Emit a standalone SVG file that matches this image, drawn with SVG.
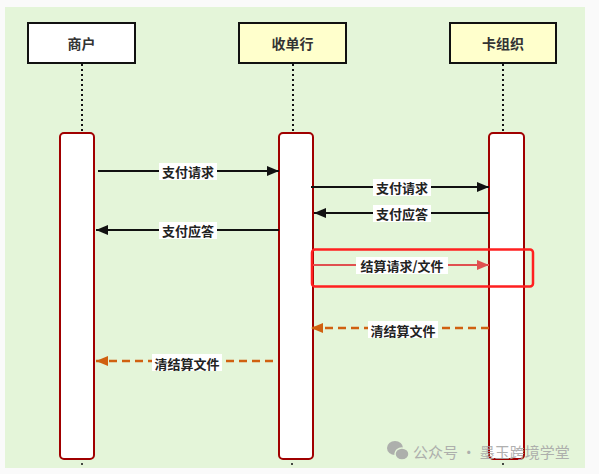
<svg xmlns="http://www.w3.org/2000/svg" width="599" height="474" viewBox="0 0 599 474">
<defs>
<style>
.node{stroke:#111;stroke-width:2}
.ntext{font-family:"Noto Sans CJK SC","Liberation Sans",sans-serif;font-size:14px;font-weight:bold;fill:#333;text-anchor:middle;dominant-baseline:central}
.life{stroke:#111;stroke-width:2;stroke-dasharray:2 3;fill:none}
.act{fill:#fff;stroke:#a00000;stroke-width:2}
.msg{stroke:#111;stroke-width:2;fill:none}
.red{stroke:#e05050;stroke-width:2;fill:none}
.dash{stroke:#d06010;stroke-width:2.5;stroke-dasharray:8 5;fill:none}
.lbg{fill:#fff}
.ltext{font-family:"Noto Sans CJK SC","Liberation Sans",sans-serif;font-size:13px;font-weight:bold;fill:#222;text-anchor:middle;dominant-baseline:central}
</style>
<marker id="ab" viewBox="0 0 12 10" refX="12" refY="5" markerWidth="12" markerHeight="10" markerUnits="userSpaceOnUse" orient="auto"><path d="M0,0 L12,5 L0,10 z" fill="#111"/></marker>
<marker id="ar" viewBox="0 0 12 10" refX="12" refY="5" markerWidth="12" markerHeight="10" markerUnits="userSpaceOnUse" orient="auto"><path d="M0,0 L12,5 L0,10 z" fill="#e05050"/></marker>
<marker id="ao" viewBox="0 0 12 10" refX="12" refY="5" markerWidth="12" markerHeight="10" markerUnits="userSpaceOnUse" orient="auto"><path d="M0,0 L12,5 L0,10 z" fill="#d06010"/></marker>
</defs>
<rect x="0" y="0" width="599" height="474" fill="#fafafa"/>
<rect x="5" y="7" width="580" height="461" fill="#e4f5d9"/>

<g id="lifelines">
<line class="life" x1="82" y1="64" x2="82" y2="133"/>
<line class="life" x1="293" y1="64" x2="293" y2="133"/>
<line class="life" x1="503" y1="64" x2="503" y2="133"/>
<circle cx="82" cy="464" r="1" fill="#111"/>
<circle cx="292" cy="464" r="1" fill="#111"/>
<circle cx="503" cy="464" r="1" fill="#111"/>
</g>

<g id="merchant">
<rect class="node" x="28" y="23" width="107" height="40" fill="#fff"/>
<text class="ntext" x="81.5" y="43">商户</text>
</g>
<g id="acquirer">
<rect class="node" x="239" y="23" width="107" height="40" fill="#ffffcc"/>
<text class="ntext" x="292.5" y="43">收单行</text>
</g>
<g id="cardorg">
<rect class="node" x="450" y="23" width="106" height="40" fill="#ffffcc"/>
<text class="ntext" x="503" y="43">卡组织</text>
</g>

<g id="activations">
<rect class="act" x="60" y="133" width="34" height="326" rx="4"/>
<rect class="act" x="279" y="133" width="34" height="326" rx="4"/>
<rect class="act" x="489" y="133" width="35" height="326" rx="4"/>
</g>

<g id="connectors">
<line class="msg" x1="98" y1="171" x2="279" y2="171" marker-end="url(#ab)"/>
<rect class="lbg" x="159" y="163" width="58" height="17"/>
<text class="ltext" x="188" y="171">支付请求</text>

<line class="msg" x1="311" y1="187" x2="489" y2="187" marker-end="url(#ab)"/>
<rect class="lbg" x="373" y="179" width="58" height="17"/>
<text class="ltext" x="402" y="187">支付请求</text>

<line class="msg" x1="489" y1="213" x2="314" y2="213" marker-end="url(#ab)"/>
<rect class="lbg" x="373" y="205" width="58" height="17"/>
<text class="ltext" x="402" y="213">支付应答</text>

<line class="msg" x1="279" y1="230" x2="96" y2="230" marker-end="url(#ab)"/>
<rect class="lbg" x="159" y="222" width="58" height="17"/>
<text class="ltext" x="188" y="230">支付应答</text>

<line class="red" x1="313" y1="265" x2="489" y2="265" marker-end="url(#ar)"/>
<rect class="lbg" x="356" y="257" width="92" height="17"/>
<text class="ltext" x="402" y="265">结算请求/文件</text>

<line class="dash" x1="489" y1="328" x2="311" y2="328" marker-end="url(#ao)"/>
<rect class="lbg" x="368" y="321" width="70" height="17"/>
<text class="ltext" x="403" y="330">清结算文件</text>

<line class="dash" x1="273" y1="361" x2="96" y2="361" marker-end="url(#ao)"/>
<rect class="lbg" x="152" y="354" width="70" height="17"/>
<text class="ltext" x="187" y="363">清结算文件</text>
</g>

<g id="highlight">
<rect x="312" y="249.5" width="221" height="37" rx="3" fill="none" stroke="#ff2020" stroke-width="2.5"/>
</g>

<g id="watermark" opacity="0.9">
<ellipse cx="395" cy="448" rx="8" ry="7" fill="#a8a8a8"/>
<ellipse cx="402" cy="454" rx="7" ry="6" fill="#a8a8a8" stroke="#e4f5d9" stroke-width="1.5"/>
<text x="413" y="451" font-family="Noto Sans CJK SC,sans-serif" font-size="15" fill="#a8a8a8" dominant-baseline="central">公众号 · 墨玉跨境学堂</text>
</g>
</svg>
